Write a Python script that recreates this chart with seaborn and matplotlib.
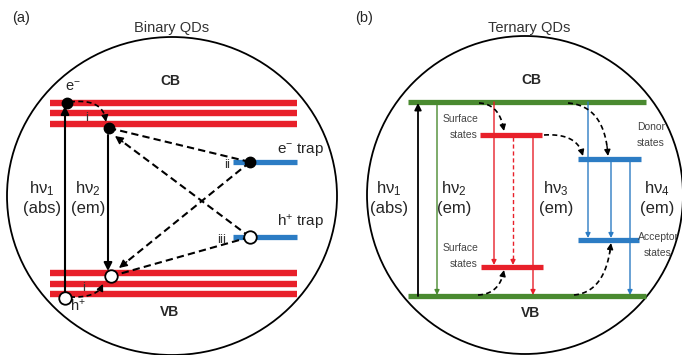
import numpy as np
import matplotlib
matplotlib.use("Agg")
import matplotlib.pyplot as plt
from matplotlib.patches import Ellipse
import seaborn as sns

sns.set_theme(style="white")
plt.rcParams['font.family'] = ['Liberation Sans', 'DejaVu Sans']
plt.rcParams['mathtext.fontset'] = 'custom'
plt.rcParams['mathtext.rm'] = 'Liberation Sans'
plt.rcParams['mathtext.it'] = 'Liberation Sans:italic'

# ---- data (diagram levels, pixel layout of the reference) ----
panel_titles = ["Binary QDs", "Ternary QDs"]
panel_tags = ["(a)", "(b)"]
band_labels = ["CB", "VB"]
binary_cb_levels = [103, 113, 124]
binary_vb_levels = [273, 284, 294]
trap_labels = ["e$^{-}$ trap", "h$^{+}$ trap"]
trap_levels = [162, 237]
ternary_levels = {"CB": 102, "VB": 296, "surf_top": 135, "surf_bot": 267,
                  "donor": 159, "acceptor": 240}
photon_labels = ["hν$_1$", "hν$_2$", "hν$_3$", "hν$_4$"]
photon_kinds = ["(abs)", "(em)", "(em)", "(em)"]

RED = "#e8202a"
BLUE = "#2c7cc4"
GREEN = "#4a8a30"

fig = plt.figure(figsize=(6.82, 3.55), dpi=100)
ax = fig.add_axes([0, 0, 1, 1])
ax.set_xlim(0, 682)
ax.set_ylim(355, 0)
ax.axis("off")


def bez(p0, c, p1, n=40):
    t = np.linspace(0, 1, n)[:, None]
    p0, c, p1 = map(np.asarray, (p0, c, p1))
    return (1 - t) ** 2 * p0 + 2 * (1 - t) * t * c + t ** 2 * p1


def head(xy, frm, color="black", ms=11, lw=1.0):
    ax.annotate("", xy=xy, xytext=frm,
                arrowprops=dict(arrowstyle="-|>", color=color, lw=lw,
                                mutation_scale=ms, shrinkA=0, shrinkB=0), zorder=6)


def dashed_curve(p0, c, p1, ms=10):
    pts = bez(p0, c, p1)
    ax.plot(pts[:-3, 0], pts[:-3, 1], color="black", lw=1.2, ls=(0, (3, 2)), zorder=5)
    head(tuple(pts[-1]), tuple(pts[-5]), ms=ms)


def dashed_line(p0, p1, arrow=True, ms=12):
    p0, p1 = np.asarray(p0, float), np.asarray(p1, float)
    d = p1 - p0
    d /= np.hypot(*d)
    end = p1 - d * 8 if arrow else p1
    ax.plot([p0[0], end[0]], [p0[1], end[1]], color="black", lw=1.5,
            ls=(0, (3.5, 2)), zorder=4)
    if arrow:
        head(tuple(p1), tuple(p1 - d * 10), ms=ms)


def varrow(x, y0, y1, color="black", lw=1.4, ms=10, ls="-"):
    if ls == "-":
        ax.annotate("", xy=(x, y1), xytext=(x, y0),
                    arrowprops=dict(arrowstyle="-|>", color=color, lw=lw,
                                    mutation_scale=ms, shrinkA=0, shrinkB=0), zorder=4)
    else:
        sgn = 1 if y1 > y0 else -1
        ax.plot([x, x], [y0, y1 - sgn * 5], color=color, lw=lw, ls=(0, (3, 2)), zorder=4)
        head((x, y1), (x, y1 - sgn * 6), color=color, ms=ms, lw=lw)


def photon_text(x, i):
    ax.text(x, 189, photon_labels[i], fontsize=12, ha="center", va="center")
    ax.text(x, 208, photon_kinds[i], fontsize=12, ha="center", va="center")


# ---- circles ----
ax.add_patch(Ellipse((172, 196), 330, 318, fill=False, ec="black", lw=1.3))
ax.add_patch(Ellipse((525, 195), 316, 318, fill=False, ec="black", lw=1.3))

# ---- titles ----
ax.text(12, 18, panel_tags[0], fontsize=10.5, ha="left", va="center")
ax.text(355, 18, panel_tags[1], fontsize=10.5, ha="left", va="center")
ax.text(172, 28, panel_titles[0], fontsize=10.5, ha="center", va="center", color="#333333")
ax.text(529, 28, panel_titles[1], fontsize=10.5, ha="center", va="center", color="#333333")

# ================= Panel (a) =================
ax.text(170, 81, band_labels[0], fontsize=10, fontweight="bold", ha="center", va="center")
ax.text(170, 312, band_labels[1], fontsize=10, fontweight="bold", ha="center", va="center")
for y in binary_cb_levels + binary_vb_levels:
    ax.plot([50, 297], [y, y], color=RED, lw=4.6, solid_capstyle="butt", zorder=2)

# traps
for y in trap_levels:
    ax.plot([233, 297], [y, y], color=BLUE, lw=3.8, solid_capstyle="butt", zorder=2)
ax.text(301, 149, trap_labels[0], fontsize=11, ha="center", va="center")
ax.text(301, 223, trap_labels[1], fontsize=11, ha="center", va="center")
ax.text(227, 165, "ii", fontsize=9.5, ha="center", va="center", color="#333333", zorder=8)
ax.text(222, 240, "iii", fontsize=9.5, ha="center", va="center", color="#333333", zorder=8)
ax.text(87, 118, "i", fontsize=9.5, ha="center", va="center", color="#333333", zorder=8)
ax.text(84, 288, "i", fontsize=9.5, ha="center", va="center", color="#333333", zorder=8)

# dashed transitions
ax.plot([109, 250], [128, 162], color="black", lw=1.5, ls=(0, (3.5, 2)), zorder=4)
dashed_line((250, 237), (115, 136))
dashed_line((250, 162), (119, 268))
ax.plot([250, 112], [237, 276], color="black", lw=1.5, ls=(0, (3.5, 2)), zorder=4)
dashed_curve((70, 102), (104, 98), (106, 122))
dashed_curve((70, 297), (98, 298), (103, 284))

# vertical arrows
varrow(65, 292, 106, lw=1.5, ms=12)
varrow(108, 135, 271, lw=1.5, ms=12)
photon_text(42, 0)
photon_text(88, 1)

# carriers
ax.plot([67], [103], "o", color="black", ms=7.5, zorder=7)
ax.plot([109], [128], "o", color="black", ms=7.5, zorder=7)
ax.plot([250], [162], "o", color="black", ms=7.5, zorder=7)
for (x, y) in [(111, 276), (65, 298), (250, 237)]:
    ax.plot([x], [y], "o", mfc="white", mec="black", mew=1.3, ms=9, zorder=7)
ax.text(73, 87, "e$^{-}$", fontsize=10.5, ha="center", va="center")
ax.text(78, 306, "h$^{+}$", fontsize=10.5, ha="center", va="center")

# ================= Panel (b) =================
L = ternary_levels
ax.text(531, 80, band_labels[0], fontsize=10, fontweight="bold", ha="center", va="center")
ax.text(531, 313, band_labels[1], fontsize=10, fontweight="bold", ha="center", va="center")
ax.plot([408, 646], [L["CB"]] * 2, color=GREEN, lw=3.8, solid_capstyle="butt", zorder=2)
ax.plot([408, 646], [L["VB"]] * 2, color=GREEN, lw=3.8, solid_capstyle="butt", zorder=2)
ax.plot([480, 542], [L["surf_top"]] * 2, color=RED, lw=3.8, solid_capstyle="butt", zorder=3)
ax.plot([481, 543], [L["surf_bot"]] * 2, color=RED, lw=3.8, solid_capstyle="butt", zorder=3)
ax.plot([578, 641], [L["donor"]] * 2, color=BLUE, lw=3.8, solid_capstyle="butt", zorder=3)
ax.plot([578, 639], [L["acceptor"]] * 2, color=BLUE, lw=3.8, solid_capstyle="butt", zorder=3)

varrow(418, L["VB"], L["CB"] + 1, color="black", lw=1.3, ms=10)
varrow(437, L["CB"], L["VB"] - 1, color=GREEN, lw=1.0, ms=7)
varrow(494, L["CB"], L["surf_bot"] - 2, color=RED, lw=1.0, ms=7)
varrow(513, L["surf_top"] + 2, L["surf_bot"] - 2, color=RED, lw=1.0, ms=7, ls="--")
varrow(533, L["surf_top"] + 2, L["VB"] - 1, color=RED, lw=1.0, ms=7)
varrow(588, L["CB"], L["acceptor"] - 2, color=BLUE, lw=1.0, ms=7)
varrow(611, L["donor"] + 2, L["acceptor"] - 2, color=BLUE, lw=1.0, ms=7)
varrow(630, L["donor"] + 2, L["VB"] - 1, color=BLUE, lw=1.0, ms=7)

dashed_curve((479, 103), (500, 104), (504, 131), ms=9)
dashed_curve((568, 103), (605, 106), (608, 156), ms=9)
dashed_curve((544, 135), (578, 133), (583, 156), ms=9)
dashed_curve((478, 295), (500, 294), (504, 270), ms=9)
dashed_curve((574, 295), (606, 292), (611, 243), ms=9)

photon_text(389, 0)
photon_text(454, 1)
photon_text(556, 2)
photon_text(657, 3)

small = dict(fontsize=7.5, color="#444444", va="center")
ax.text(478, 119, "Surface", ha="right", **small)
ax.text(478, 135, "states", ha="right", **small)
ax.text(478, 248, "Surface", ha="right", **small)
ax.text(478, 264, "states", ha="right", **small)
ax.text(651, 127, "Donor", ha="center", **small)
ax.text(651, 143, "states", ha="center", **small)
ax.text(658, 237, "Acceptor", ha="center", **small)
ax.text(658, 253, "states", ha="center", **small)

fig.savefig("out.png", dpi=100)
